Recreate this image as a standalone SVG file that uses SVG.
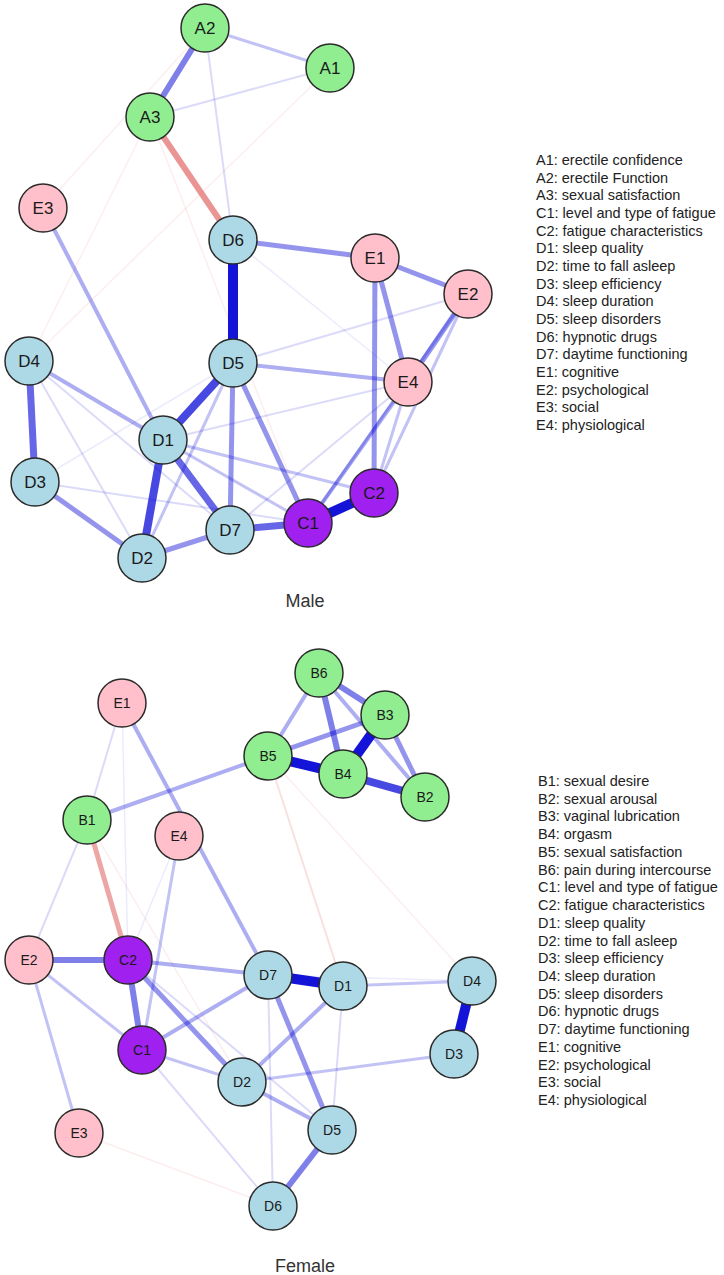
<svg xmlns="http://www.w3.org/2000/svg" width="724" height="1275" viewBox="0 0 724 1275">
<style>
.bg{fill:#fff}
line{stroke-linecap:butt}
.p{stroke:#0000D5}
.n{stroke:#D52A2A}
.w10{stroke-width:10;stroke-opacity:0.92}
.w8{stroke-width:8;stroke-opacity:0.72}
.w7{stroke-width:7;stroke-opacity:0.6}
.w6{stroke-width:6;stroke-opacity:0.5}
.w5{stroke-width:5;stroke-opacity:0.42}
.w4{stroke-width:4;stroke-opacity:0.32}
.w3{stroke-width:3;stroke-opacity:0.24}
.w2{stroke-width:2;stroke-opacity:0.14}
.w1{stroke-width:1.5;stroke-opacity:0.08}
.node circle{stroke:#2b2b2b;stroke-width:1.5}
.g circle{fill:#90EE90}
.k circle{fill:#FFC0CB}
.b circle{fill:#ADD8E6}
.v circle{fill:#A020F0}
.node text{font-family:"Liberation Sans",Arial,sans-serif;text-anchor:middle;fill:#1a1a1a}
.m text{font-size:17px}
.f text{font-size:14px}
.leg{font-family:"Liberation Sans",Arial,sans-serif;font-size:14.5px;fill:#222}
.title{font-family:"Liberation Sans",Arial,sans-serif;font-size:18px;fill:#333;text-anchor:middle}
</style>
<rect class="bg" width="724" height="1275"/>

<!-- Male connectors -->
<g id="male-edges">
<line class="n w1" x1="330" y1="68" x2="29" y2="361"/>
<line class="n w1" x1="205" y1="28" x2="43" y2="208"/>
<line class="n w1" x1="150" y1="117" x2="29" y2="361"/>
<line class="n w1" x1="150" y1="117" x2="308" y2="523"/>
<line class="p w1" x1="233" y1="240" x2="408" y2="382"/>
<line class="p w2" x1="205" y1="28" x2="233" y2="240"/>
<line class="p w3" x1="205" y1="28" x2="330" y2="68"/>
<line class="p w2" x1="150" y1="117" x2="330" y2="68"/>
<line class="p w2" x1="468" y1="294" x2="233" y2="363"/>
<line class="p w2" x1="163" y1="440" x2="408" y2="382"/>
<line class="p w1" x1="35" y1="482" x2="233" y2="363"/>
<line class="p w2" x1="29" y1="361" x2="230" y2="530"/>
<line class="p w2" x1="29" y1="361" x2="142" y2="558"/>
<line class="p w2" x1="35" y1="482" x2="308" y2="523"/>
<line class="p w3" x1="163" y1="440" x2="374" y2="493"/>
<line class="p w3" x1="163" y1="440" x2="308" y2="523"/>
<line class="p w3" x1="233" y1="363" x2="142" y2="558"/>
<line class="p w2" x1="230" y1="530" x2="408" y2="382"/>
<line class="p w3" x1="468" y1="294" x2="374" y2="493"/>
<line class="p w3" x1="468" y1="294" x2="308" y2="523"/>
<line class="p w3" x1="374" y1="493" x2="408" y2="382"/>
<line class="p w4" x1="308" y1="523" x2="408" y2="382"/>
<line class="p w4" x1="233" y1="363" x2="408" y2="382"/>
<line class="p w4" x1="43" y1="208" x2="163" y2="440"/>
<line class="p w4" x1="29" y1="361" x2="163" y2="440"/>
<line class="p w5" x1="233" y1="240" x2="375" y2="258"/>
<line class="p w5" x1="375" y1="258" x2="468" y2="294"/>
<line class="p w5" x1="375" y1="258" x2="408" y2="382"/>
<line class="p w5" x1="375" y1="258" x2="374" y2="493"/>
<line class="p w5" x1="468" y1="294" x2="408" y2="382"/>
<line class="p w5" x1="233" y1="363" x2="230" y2="530"/>
<line class="p w5" x1="233" y1="363" x2="308" y2="523"/>
<line class="p w5" x1="35" y1="482" x2="142" y2="558"/>
<line class="p w5" x1="142" y1="558" x2="230" y2="530"/>
<line class="p w7" x1="230" y1="530" x2="308" y2="523"/>
<line class="p w6" x1="205" y1="28" x2="150" y2="117"/>
<line class="n w6" x1="150" y1="117" x2="233" y2="240"/>
<line class="p w7" x1="29" y1="361" x2="35" y2="482"/>
<line class="p w7" x1="163" y1="440" x2="230" y2="530"/>
<line class="p w8" x1="163" y1="440" x2="142" y2="558"/>
<line class="p w8" x1="233" y1="363" x2="163" y2="440"/>
<line class="p w10" x1="233" y1="240" x2="233" y2="363"/>
<line class="p w10" x1="308" y1="523" x2="374" y2="493"/>
</g>

<!-- Male nodes -->
<g id="m-A2" class="node m g"><circle cx="205" cy="28" r="24"/><text x="205" y="34">A2</text></g>
<g id="m-A1" class="node m g"><circle cx="330" cy="68" r="24"/><text x="330" y="74">A1</text></g>
<g id="m-A3" class="node m g"><circle cx="150" cy="117" r="24"/><text x="150" y="123">A3</text></g>
<g id="m-E3" class="node m k"><circle cx="43" cy="208" r="24"/><text x="43" y="214">E3</text></g>
<g id="m-D6" class="node m b"><circle cx="233" cy="240" r="24"/><text x="233" y="246">D6</text></g>
<g id="m-E1" class="node m k"><circle cx="375" cy="258" r="24"/><text x="375" y="264">E1</text></g>
<g id="m-E2" class="node m k"><circle cx="468" cy="294" r="24"/><text x="468" y="300">E2</text></g>
<g id="m-D5" class="node m b"><circle cx="233" cy="363" r="24"/><text x="233" y="369">D5</text></g>
<g id="m-E4" class="node m k"><circle cx="408" cy="382" r="24"/><text x="408" y="388">E4</text></g>
<g id="m-D4" class="node m b"><circle cx="29" cy="361" r="24"/><text x="29" y="367">D4</text></g>
<g id="m-D1" class="node m b"><circle cx="163" cy="440" r="24"/><text x="163" y="446">D1</text></g>
<g id="m-D3" class="node m b"><circle cx="35" cy="482" r="24"/><text x="35" y="488">D3</text></g>
<g id="m-D7" class="node m b"><circle cx="230" cy="530" r="24"/><text x="230" y="536">D7</text></g>
<g id="m-D2" class="node m b"><circle cx="142" cy="558" r="24"/><text x="142" y="564">D2</text></g>
<g id="m-C1" class="node m v"><circle cx="308" cy="523" r="24"/><text x="308" y="529">C1</text></g>
<g id="m-C2" class="node m v"><circle cx="374" cy="493" r="24"/><text x="374" y="499">C2</text></g>

<text class="title" x="305" y="607">Male</text>

<g id="male-legend" class="leg">
<text x="536" y="165">A1: erectile confidence</text>
<text x="536" y="182.7">A2: erectile Function</text>
<text x="536" y="200.3">A3: sexual satisfaction</text>
<text x="536" y="218">C1: level and type of fatigue</text>
<text x="536" y="235.7">C2: fatigue characteristics</text>
<text x="536" y="253.3">D1: sleep quality</text>
<text x="536" y="271">D2: time to fall asleep</text>
<text x="536" y="288.7">D3: sleep efficiency</text>
<text x="536" y="306.3">D4: sleep duration</text>
<text x="536" y="324">D5: sleep disorders</text>
<text x="536" y="341.7">D6: hypnotic drugs</text>
<text x="536" y="359.3">D7: daytime functioning</text>
<text x="536" y="377">E1: cognitive</text>
<text x="536" y="394.7">E2: psychological</text>
<text x="536" y="412.3">E3: social</text>
<text x="536" y="430">E4: physiological</text>
</g>

<!-- Female connectors -->
<g id="female-edges">
<line class="n w2" x1="268" y1="756" x2="343" y2="986"/>
<line class="n w1" x1="268" y1="756" x2="472" y2="981"/>
<line class="n w1" x1="87" y1="820" x2="242" y2="1082"/>
<line class="n w1" x1="79" y1="1133" x2="273" y2="1206"/>
<line class="p w1" x1="179" y1="836" x2="128" y2="960"/>
<line class="p w2" x1="122" y1="703" x2="87" y2="820"/>
<line class="p w1" x1="122" y1="703" x2="128" y2="960"/>
<line class="p w2" x1="87" y1="820" x2="29" y2="960"/>
<line class="p w3" x1="179" y1="836" x2="142" y2="1050"/>
<line class="p w2" x1="128" y1="960" x2="332" y2="1130"/>
<line class="p w2" x1="142" y1="1050" x2="273" y2="1206"/>
<line class="p w2" x1="268" y1="975" x2="273" y2="1206"/>
<line class="p w2" x1="343" y1="986" x2="332" y2="1130"/>
<line class="p w1" x1="268" y1="975" x2="472" y2="981"/>
<line class="p w3" x1="29" y1="960" x2="142" y2="1050"/>
<line class="p w3" x1="29" y1="960" x2="79" y2="1133"/>
<line class="p w3" x1="142" y1="1050" x2="242" y2="1082"/>
<line class="p w3" x1="242" y1="1082" x2="454" y2="1054"/>
<line class="p w3" x1="343" y1="986" x2="472" y2="981"/>
<line class="p w4" x1="128" y1="960" x2="268" y2="975"/>
<line class="p w4" x1="142" y1="1050" x2="268" y2="975"/>
<line class="p w4" x1="343" y1="986" x2="242" y2="1082"/>
<line class="p w4" x1="242" y1="1082" x2="332" y2="1130"/>
<line class="p w4" x1="87" y1="820" x2="268" y2="756"/>
<line class="p w4" x1="122" y1="703" x2="268" y2="975"/>
<line class="p w5" x1="128" y1="960" x2="242" y2="1082"/>
<line class="p w5" x1="268" y1="975" x2="332" y2="1130"/>
<line class="p w6" x1="29" y1="960" x2="128" y2="960"/>
<line class="p w6" x1="128" y1="960" x2="142" y2="1050"/>
<line class="p w6" x1="332" y1="1130" x2="273" y2="1206"/>
<line class="n w5" x1="87" y1="820" x2="128" y2="960"/>
<line class="p w4" x1="319" y1="673" x2="268" y2="756"/>
<line class="p w4" x1="319" y1="673" x2="425" y2="797"/>
<line class="p w5" x1="268" y1="756" x2="385" y2="715"/>
<line class="p w5" x1="385" y1="715" x2="425" y2="797"/>
<line class="p w6" x1="319" y1="673" x2="343" y2="774"/>
<line class="p w6" x1="319" y1="673" x2="385" y2="715"/>
<line class="p w8" x1="343" y1="774" x2="425" y2="797"/>
<line class="p w10" x1="268" y1="756" x2="343" y2="774"/>
<line class="p w10" x1="343" y1="774" x2="385" y2="715"/>
<line class="p w10" x1="268" y1="975" x2="343" y2="986"/>
<line class="p w10" x1="472" y1="981" x2="454" y2="1054"/>
</g>

<!-- Female nodes -->
<g id="f-B6" class="node f g"><circle cx="319" cy="673" r="24"/><text x="319" y="678">B6</text></g>
<g id="f-B3" class="node f g"><circle cx="385" cy="715" r="24"/><text x="385" y="720">B3</text></g>
<g id="f-B5" class="node f g"><circle cx="268" cy="756" r="24"/><text x="268" y="761">B5</text></g>
<g id="f-B4" class="node f g"><circle cx="343" cy="774" r="24"/><text x="343" y="779">B4</text></g>
<g id="f-B2" class="node f g"><circle cx="425" cy="797" r="24"/><text x="425" y="802">B2</text></g>
<g id="f-E1" class="node f k"><circle cx="122" cy="703" r="24"/><text x="122" y="708">E1</text></g>
<g id="f-B1" class="node f g"><circle cx="87" cy="820" r="24"/><text x="87" y="825">B1</text></g>
<g id="f-E4" class="node f k"><circle cx="179" cy="836" r="24"/><text x="179" y="841">E4</text></g>
<g id="f-E2" class="node f k"><circle cx="29" cy="960" r="24"/><text x="29" y="965">E2</text></g>
<g id="f-C2" class="node f v"><circle cx="128" cy="960" r="24"/><text x="128" y="965">C2</text></g>
<g id="f-D7" class="node f b"><circle cx="268" cy="975" r="24"/><text x="268" y="980">D7</text></g>
<g id="f-D1" class="node f b"><circle cx="343" cy="986" r="24"/><text x="343" y="991">D1</text></g>
<g id="f-D4" class="node f b"><circle cx="472" cy="981" r="24"/><text x="472" y="986">D4</text></g>
<g id="f-C1" class="node f v"><circle cx="142" cy="1050" r="24"/><text x="142" y="1055">C1</text></g>
<g id="f-D3" class="node f b"><circle cx="454" cy="1054" r="24"/><text x="454" y="1059">D3</text></g>
<g id="f-D2" class="node f b"><circle cx="242" cy="1082" r="24"/><text x="242" y="1087">D2</text></g>
<g id="f-E3" class="node f k"><circle cx="79" cy="1133" r="24"/><text x="79" y="1138">E3</text></g>
<g id="f-D5" class="node f b"><circle cx="332" cy="1130" r="24"/><text x="332" y="1135">D5</text></g>
<g id="f-D6" class="node f b"><circle cx="273" cy="1206" r="24"/><text x="273" y="1211">D6</text></g>

<text class="title" x="305" y="1272">Female</text>

<g id="female-legend" class="leg">
<text x="538" y="786">B1: sexual desire</text>
<text x="538" y="803.7">B2: sexual arousal</text>
<text x="538" y="821.4">B3: vaginal lubrication</text>
<text x="538" y="839.2">B4: orgasm</text>
<text x="538" y="856.9">B5: sexual satisfaction</text>
<text x="538" y="874.6">B6: pain during intercourse</text>
<text x="538" y="892.3">C1: level and type of fatigue</text>
<text x="538" y="910">C2: fatigue characteristics</text>
<text x="538" y="927.8">D1: sleep quality</text>
<text x="538" y="945.5">D2: time to fall asleep</text>
<text x="538" y="963.2">D3: sleep efficiency</text>
<text x="538" y="980.9">D4: sleep duration</text>
<text x="538" y="998.6">D5: sleep disorders</text>
<text x="538" y="1016.4">D6: hypnotic drugs</text>
<text x="538" y="1034.1">D7: daytime functioning</text>
<text x="538" y="1051.8">E1: cognitive</text>
<text x="538" y="1069.5">E2: psychological</text>
<text x="538" y="1087.2">E3: social</text>
<text x="538" y="1105">E4: physiological</text>
</g>
</svg>
